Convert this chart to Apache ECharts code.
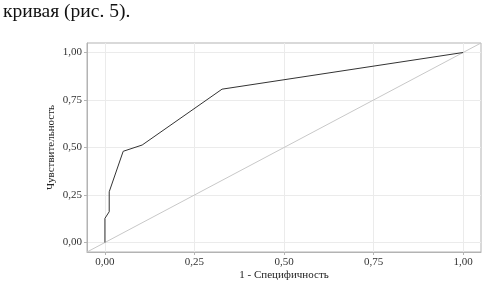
<!DOCTYPE html>
<html>
<head>
<meta charset="utf-8">
<script src="https://cdn.jsdelivr.net/npm/echarts@6/dist/echarts.min.js"></script>
<style>html,body{margin:0;padding:0;background:#fff}#c{width:485px;height:290px}</style>
</head>
<body>
<div id="c"></div>
<script>
const fpr = [0, 0, 0.012, 0.012, 0.051, 0.104, 0.327, 1];
const tpr = [0, 0.127, 0.162, 0.267, 0.48, 0.513, 0.807, 1];
const diagonal = [-0.05, 1.05];
const tickValues = [0, 0.25, 0.5, 0.75, 1];
const tickLabels = ['0,00', '0,25', '0,50', '0,75', '1,00'];
const headerText = 'кривая (рис. 5).';
const xTitle = '1 - Специфичность';
const yTitle = 'Чувствительность';

const fmt = v => { const i = tickValues.indexOf(Math.round(v*100)/100); return i >= 0 ? tickLabels[i] : ''; };
const font = 'Liberation Serif';
const chart = echarts.init(document.getElementById('c'), null, {renderer: 'canvas'});
const axisCommon = {
  type: 'value', min: -0.05, max: 1.05,
  axisLine: {show: true, onZero: false, lineStyle: {color: '#b3b3b3', width: 1}},
  axisTick: {show: true, length: 3, lineStyle: {color: '#b3b3b3'}, customValues: tickValues},
  axisLabel: {customValues: tickValues, formatter: fmt, color: '#333', fontFamily: font, fontSize: 11, margin: 5},
  splitLine: {show: true, lineStyle: {color: '#ebebeb', width: 1}},
  nameTextStyle: {color: '#222', fontFamily: font, fontSize: 11},
  nameLocation: 'middle',
  nameMoveOverlap: false
};
chart.setOption({
  animation: false,
  title: {text: headerText, left: 0, top: 0, padding: [2, 3], textStyle: {fontFamily: 'Liberation Serif', fontSize: 19.5, fontWeight: 'normal', color: '#111'}},
  grid: {left: 87, right: 4, top: 43, bottom: 38, show: true, borderColor: '#b3b3b3', borderWidth: 1, containLabel: false},
  xAxis: Object.assign({}, axisCommon, {name: xTitle, nameGap: 18}),
  yAxis: Object.assign({}, axisCommon, {name: yTitle, nameGap: 30, nameRotate: 90}),
  series: [
    {type: 'line', data: diagonal.map(v => [v, v]), symbol: 'none', lineStyle: {color: '#c8c8c8', width: 1}, silent: true},
    {type: 'line', data: fpr.map((x, i) => [x, tpr[i]]), symbol: 'none', lineStyle: {color: '#333', width: 1}, silent: true}
  ]
});
</script>
</body>
</html>
